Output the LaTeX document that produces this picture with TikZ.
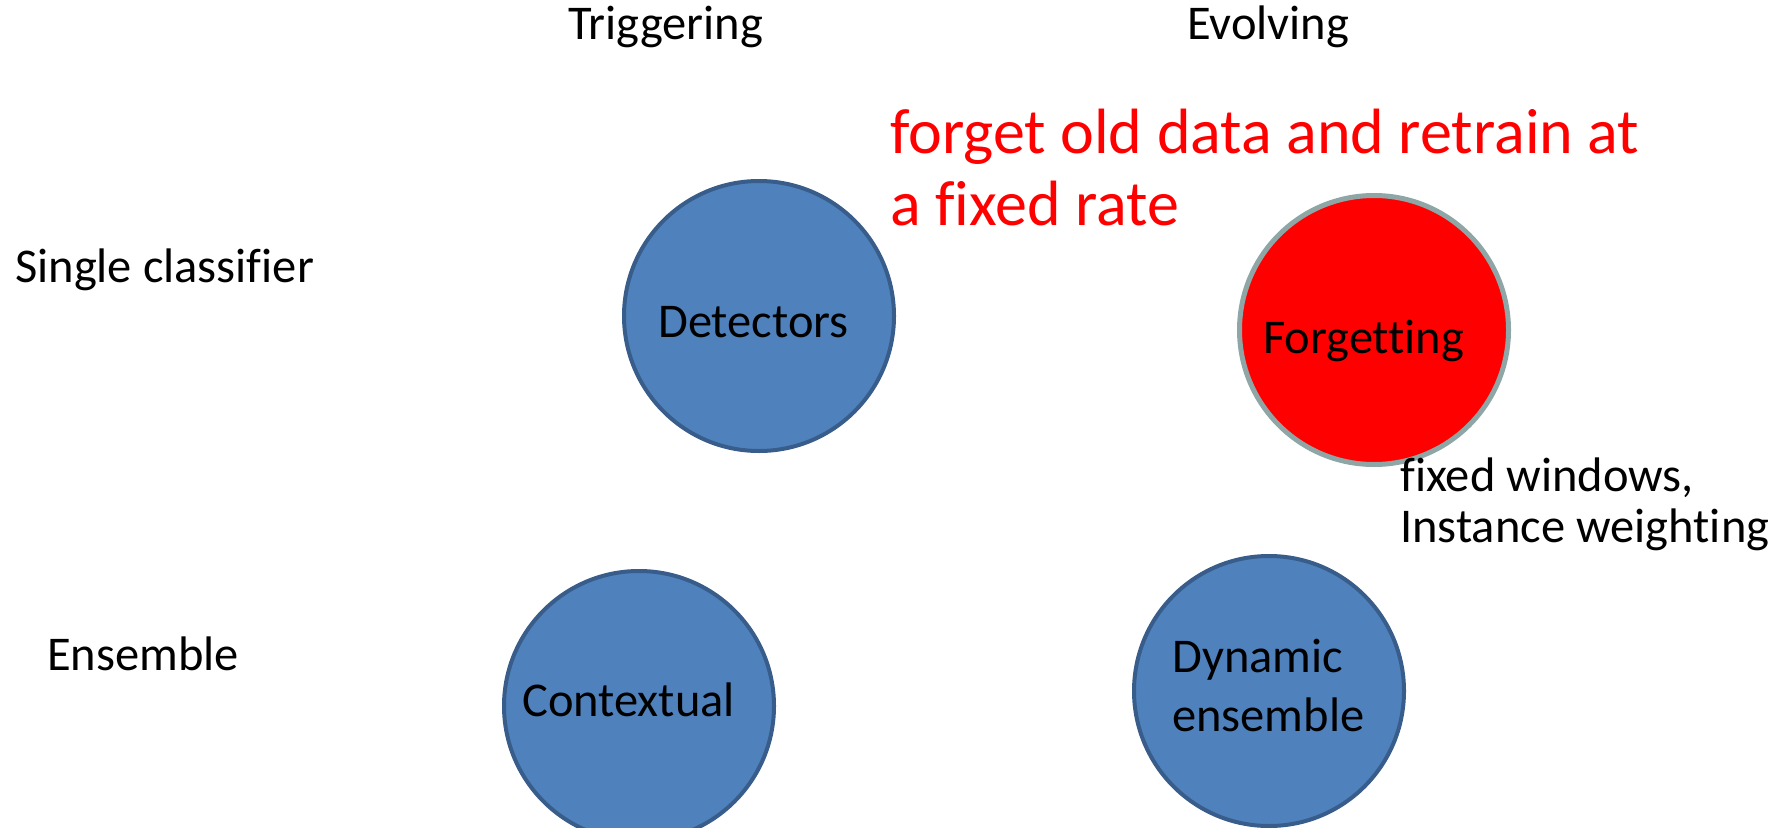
\documentclass[tikz,border=0pt]{standalone}
\usepackage{fontspec}
\setmainfont[Ligatures=NoCommon]{Carlito}
\definecolor{bluefill}{HTML}{4F81BD}
\definecolor{blueline}{HTML}{385D8A}
\definecolor{greyline}{HTML}{8FA6A7}
\definecolor{redfill}{HTML}{FF0000}
\begin{document}
\begin{tikzpicture}[x=1pt,y=-1pt,
  bubble/.style={circle,fill=bluefill,draw=blueline,line width=4pt,minimum size=270pt,inner sep=0pt},
  redbubble/.style={circle,fill=redfill,draw=greyline,line width=5pt,minimum size=269pt,inner sep=0pt},
  lbl/.style={anchor=base west,inner sep=0pt,font=\fontsize{48.5}{58}\selectfont},
  note/.style={anchor=base west,inner sep=0pt,text=redfill,font=\fontsize{64}{77}\selectfont}]
\useasboundingbox (0,0) rectangle (1785,827);
% circles
\node[bubble] (det) at (759,316) {};
\node[redbubble] (forg) at (1374,330) {};
\node[bubble] (ctx) at (639,706) {};
\node[bubble] (dyn) at (1269,691) {};
% circle texts
\node[lbl] (tdet) at (658,337) {Detectors};
\node[lbl] (tforg) at (1263,353) {Forgetting};
\node[lbl] (tctx) at (522,716) {Contextual};
\node[lbl] (tdyn1) at (1172,672) {Dynamic};
\node[lbl] (tdyn2) at (1172,731) {ensemble};
% headers
\node[lbl] (trig) at (568,39) {Triggering};
\node[lbl] (evol) at (1187,39) {Evolving};
\node[lbl] (single) at (15,282) {Single classifier};
\node[lbl] (ens) at (47,670) {Ensemble};
% notes
\node[note] (n1) at (890,153) {forget old data and retrain at};
\node[note] (n2) at (890,225) {a fixed rate};
\node[lbl] (f1) at (1400,491) {fixed windows,};
\node[lbl] (f2) at (1400,542) {Instance weighting};
\end{tikzpicture}
\end{document}
